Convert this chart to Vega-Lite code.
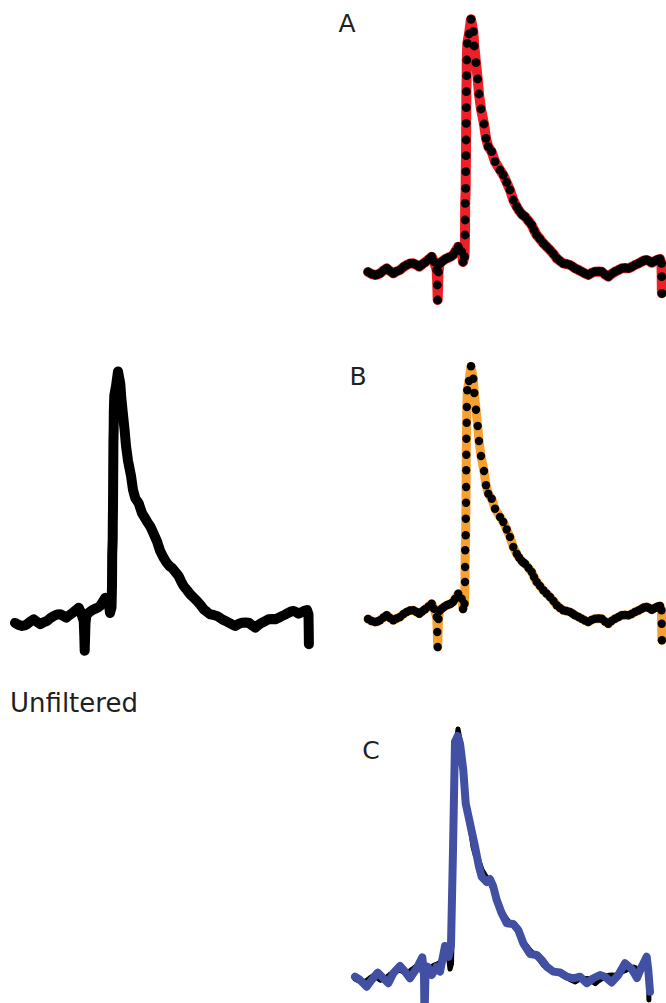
{
  "$schema": "https://vega.github.io/schema/vega-lite/v6.json",
  "padding": 0,
  "background": "white",
  "config": {"view": {"stroke": null}},
  "datasets": {
    "base": [
      {"t": 0, "v": 0}, {"t": 3.5, "v": -2}, {"t": 7, "v": -3}, {"t": 9.5, "v": -2.5}, {"t": 12, "v": -1.3},
      {"t": 15.5, "v": 1.5}, {"t": 18.7, "v": 3.7}, {"t": 22, "v": 1}, {"t": 25.3, "v": -1.3}, {"t": 28.5, "v": 0.5},
      {"t": 32, "v": 2}, {"t": 35.5, "v": 5}, {"t": 38.7, "v": 7}, {"t": 42, "v": 8.5}, {"t": 45.3, "v": 8.7},
      {"t": 48.5, "v": 7}, {"t": 51.3, "v": 5.3}, {"t": 54, "v": 7.5}, {"t": 57, "v": 9.7}, {"t": 60.5, "v": 12.5},
      {"t": 63.7, "v": 15.3}, {"t": 66, "v": 10.3}, {"t": 68.7, "v": 2}, {"t": 69.3, "v": -13}, {"t": 69.7, "v": -28},
      {"t": 70.5, "v": 0}, {"t": 71.5, "v": 8}, {"t": 73.7, "v": 10.3}, {"t": 76, "v": 12}, {"t": 78.7, "v": 13.7},
      {"t": 80.7, "v": 14.5}, {"t": 82.7, "v": 15.3}, {"t": 85, "v": 17}, {"t": 87, "v": 20}, {"t": 90.3, "v": 25.3},
      {"t": 93.7, "v": 20.3}, {"t": 95, "v": 10}, {"t": 96.5, "v": 15.3}, {"t": 97, "v": 37}, {"t": 97.1, "v": 52},
      {"t": 97.2, "v": 68.7}, {"t": 97.7, "v": 83.7}, {"t": 97.8, "v": 100.3}, {"t": 98, "v": 116.3}, {"t": 98.1, "v": 132},
      {"t": 98.2, "v": 148.7}, {"t": 98.3, "v": 164.3}, {"t": 98.4, "v": 180.3}, {"t": 98.7, "v": 196.3}, {"t": 98.8, "v": 212},
      {"t": 99.3, "v": 228.7}, {"t": 101, "v": 238}, {"t": 103, "v": 252.7}, {"t": 105.3, "v": 240.3}, {"t": 106.3, "v": 226},
      {"t": 108, "v": 209.3}, {"t": 109.7, "v": 193}, {"t": 111, "v": 178}, {"t": 113, "v": 163}, {"t": 116, "v": 148},
      {"t": 118, "v": 133.7}, {"t": 120.3, "v": 125.3}, {"t": 123.7, "v": 120.3}, {"t": 127, "v": 110.3}, {"t": 132, "v": 102},
      {"t": 135.3, "v": 97}, {"t": 138.7, "v": 89.5}, {"t": 142, "v": 82}, {"t": 145.3, "v": 72}, {"t": 148.7, "v": 65.3},
      {"t": 151, "v": 61.5}, {"t": 153.7, "v": 58}, {"t": 155.3, "v": 56.5}, {"t": 157, "v": 55.3}, {"t": 160.5, "v": 51},
      {"t": 163.7, "v": 47}, {"t": 166, "v": 42}, {"t": 168.7, "v": 37}, {"t": 172, "v": 33}, {"t": 175.3, "v": 28.7},
      {"t": 178.5, "v": 25.5}, {"t": 182, "v": 22}, {"t": 185.5, "v": 18}, {"t": 188.7, "v": 13.7}, {"t": 192, "v": 11},
      {"t": 195.3, "v": 8.7}, {"t": 198.5, "v": 8}, {"t": 202, "v": 7}, {"t": 204.5, "v": 5.5}, {"t": 207, "v": 3.7},
      {"t": 210.5, "v": 2}, {"t": 213.7, "v": 0.3}, {"t": 217, "v": -1.5}, {"t": 220.3, "v": -3}, {"t": 223.5, "v": -1},
      {"t": 227, "v": 0.3}, {"t": 230.5, "v": 0.5}, {"t": 233.7, "v": 0.3}, {"t": 237, "v": -2.5}, {"t": 240.3, "v": -4.7},
      {"t": 243.5, "v": -2}, {"t": 247, "v": 0.3}, {"t": 250.5, "v": 2}, {"t": 253.7, "v": 3.7}, {"t": 257, "v": 4},
      {"t": 260.3, "v": 3.7}, {"t": 263.5, "v": 5}, {"t": 267, "v": 7}, {"t": 270.5, "v": 8.5}, {"t": 273.7, "v": 10.3},
      {"t": 276, "v": 11.5}, {"t": 278.7, "v": 12}, {"t": 281, "v": 11}, {"t": 283.7, "v": 9.3}, {"t": 286, "v": 10.5},
      {"t": 288, "v": 11.5}, {"t": 290, "v": 12.5}, {"t": 292, "v": 13}, {"t": 293.5, "v": 8.7}, {"t": 293.7, "v": -4.7},
      {"t": 293.9, "v": -21.3}
    ],
    "blue": [
      {"t": 0, "v": 2.3}, {"t": 5, "v": -1}, {"t": 11.7, "v": -7.8}, {"t": 16.7, "v": -1}, {"t": 22.7, "v": 6.4},
      {"t": 28.3, "v": 0.7}, {"t": 33.3, "v": -4.3}, {"t": 38.3, "v": 5.8}, {"t": 45, "v": 13.1}, {"t": 50, "v": 7.4},
      {"t": 55, "v": 0.7}, {"t": 61.7, "v": 10.8}, {"t": 67.3, "v": 21.9}, {"t": 69, "v": 5}, {"t": 69.5, "v": -40},
      {"t": 70.5, "v": 5}, {"t": 72.7, "v": 12.4}, {"t": 76.7, "v": 4}, {"t": 81.7, "v": 12.4}, {"t": 85, "v": 7.4},
      {"t": 90, "v": 33.4}, {"t": 93.5, "v": 22.2}, {"t": 96, "v": 34.4}, {"t": 98, "v": 130}, {"t": 100, "v": 240},
      {"t": 102.7, "v": 245.7}, {"t": 105, "v": 238}, {"t": 108.3, "v": 211}, {"t": 110.7, "v": 177.6}, {"t": 115, "v": 157.4},
      {"t": 120, "v": 133.8}, {"t": 124, "v": 113.5}, {"t": 126.7, "v": 103.4}, {"t": 131.7, "v": 98}, {"t": 135, "v": 101},
      {"t": 138.3, "v": 93.3}, {"t": 141.7, "v": 79.9}, {"t": 146.7, "v": 66.4}, {"t": 151.7, "v": 56.3}, {"t": 158.3, "v": 55.6},
      {"t": 163.3, "v": 49.5}, {"t": 168.3, "v": 36.1}, {"t": 175, "v": 25.3}, {"t": 181.7, "v": 24.3}, {"t": 186.7, "v": 19.2},
      {"t": 191.7, "v": 12.4}, {"t": 198.3, "v": 7.4}, {"t": 205, "v": 6.6}, {"t": 211.7, "v": 2.3}, {"t": 218.3, "v": 0.7},
      {"t": 225, "v": 2.3}, {"t": 231.7, "v": -4.3}, {"t": 238.3, "v": 0.7}, {"t": 245, "v": 4}, {"t": 250, "v": 2.3},
      {"t": 256.7, "v": -3.5}, {"t": 263.3, "v": 4}, {"t": 270, "v": 15.9}, {"t": 276.7, "v": 10.1}, {"t": 282, "v": 1},
      {"t": 286.7, "v": 12.4}, {"t": 291.7, "v": 22.5}, {"t": 293.3, "v": 9.1}, {"t": 295, "v": -12.8}
    ]
  },
  "spacing": 0,
  "bounds": "flush",
  "hconcat": [
    {
      "width": 340,
      "height": 690,
      "title": {"text": "Unfiltered", "orient": "bottom", "anchor": "start", "frame": "group", "offset": 1, "dx": 10, "fontSize": 26, "font": "DejaVu Sans", "fontWeight": "normal", "color": "#231f20"},
      "data": {"name": "base"},
      "mark": {"type": "line", "color": "black", "strokeWidth": 10, "strokeCap": "round", "strokeJoin": "round"},
      "encoding": {
        "x": {"field": "t", "type": "quantitative", "scale": {"domain": [-15, 325], "nice": false, "zero": false}, "axis": null},
        "y": {"field": "v", "type": "quantitative", "scale": {"domain": [-67.4, 626.1], "nice": false, "zero": false}, "axis": null}
      }
    },
    {
      "spacing": 0,
      "bounds": "flush",
      "vconcat": [
        {
          "width": 326,
          "height": 340,
          "layer": [
            {"data": {"name": "base"}, "mark": {"type": "line", "color": "#ee1f26", "strokeWidth": 10, "strokeCap": "round", "strokeJoin": "round"},
             "encoding": {
               "x": {"field": "t", "type": "quantitative", "scale": {"domain": [-28, 298], "nice": false, "zero": false}, "axis": null},
               "y": {"field": "v", "type": "quantitative", "scale": {"domain": [-68, 272], "nice": false, "zero": false}, "axis": null}}},
            {"data": {"name": "base"}, "mark": {"type": "circle", "color": "black", "size": 78, "opacity": 1},
             "encoding": {
               "x": {"field": "t", "type": "quantitative", "axis": null},
               "y": {"field": "v", "type": "quantitative", "axis": null}}},
            {"data": {"values": [{"label": "A"}]}, "mark": {"type": "text", "fontSize": 25, "font": "DejaVu Sans", "color": "#231f20", "align": "center", "baseline": "middle"},
             "encoding": {"text": {"field": "label"}, "x": {"datum": -21, "type": "quantitative", "axis": null}, "y": {"datum": 248, "type": "quantitative", "axis": null}}}
          ]
        },
        {
          "width": 326,
          "height": 350,
          "layer": [
            {"data": {"name": "base"}, "mark": {"type": "line", "color": "#f7a030", "strokeWidth": 9, "strokeCap": "round", "strokeJoin": "round"},
             "encoding": {
               "x": {"field": "t", "type": "quantitative", "scale": {"domain": [-28, 298], "nice": false, "zero": false}, "axis": null},
               "y": {"field": "v", "type": "quantitative", "scale": {"domain": [-71, 279], "nice": false, "zero": false}, "axis": null}}},
            {"data": {"name": "base"}, "mark": {"type": "circle", "color": "black", "size": 70, "opacity": 1},
             "encoding": {
               "x": {"field": "t", "type": "quantitative", "axis": null},
               "y": {"field": "v", "type": "quantitative", "axis": null}}},
            {"data": {"values": [{"label": "B"}]}, "mark": {"type": "text", "fontSize": 25, "font": "DejaVu Sans", "color": "#231f20", "align": "center", "baseline": "middle"},
             "encoding": {"text": {"field": "label"}, "x": {"datum": -10, "type": "quantitative", "axis": null}, "y": {"datum": 242, "type": "quantitative", "axis": null}}}
          ]
        },
        {
          "width": 326,
          "height": 313,
          "layer": [
            {"data": {"name": "base"}, "mark": {"type": "line", "color": "black", "strokeWidth": 5, "strokeCap": "round", "strokeJoin": "round"},
             "encoding": {
               "x": {"field": "t", "type": "quantitative", "scale": {"domain": [-15, 311], "nice": false, "zero": false}, "axis": null},
               "y": {"field": "v", "type": "quantitative", "scale": {"domain": [-24.3, 292.2], "nice": false, "zero": false}, "axis": null}}},
            {"data": {"name": "base"}, "mark": {"type": "circle", "color": "black", "size": 18, "opacity": 1},
             "encoding": {
               "x": {"field": "t", "type": "quantitative", "axis": null},
               "y": {"field": "v", "type": "quantitative", "axis": null}}},
            {"data": {"name": "blue"}, "mark": {"type": "line", "color": "#4150a3", "strokeWidth": 8, "strokeCap": "round", "strokeJoin": "round"},
             "encoding": {
               "x": {"field": "t", "type": "quantitative", "axis": null},
               "y": {"field": "v", "type": "quantitative", "axis": null}}},
            {"data": {"values": [{"label": "C"}]}, "mark": {"type": "text", "fontSize": 25, "font": "DejaVu Sans", "color": "#231f20", "align": "center", "baseline": "middle"},
             "encoding": {"text": {"field": "label"}, "x": {"datum": 16, "type": "quantitative", "axis": null}, "y": {"datum": 230.5, "type": "quantitative", "axis": null}}}
          ]
        }
      ]
    }
  ]
}
